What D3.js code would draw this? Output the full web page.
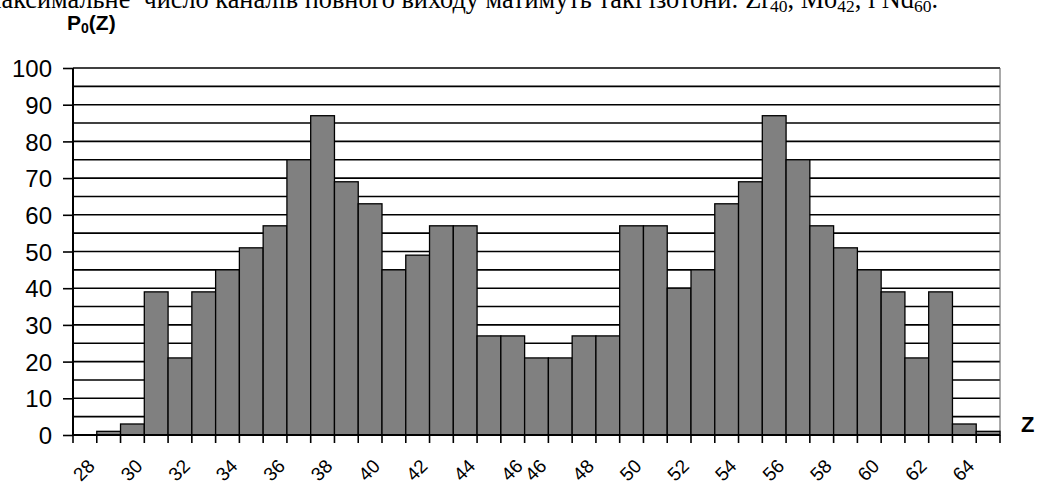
<!DOCTYPE html>
<html><head><meta charset="utf-8">
<script src="https://cdn.jsdelivr.net/npm/d3@7"></script>
<style>
html,body{margin:0;padding:0;background:#fff;overflow:hidden;}
svg{display:block;}
</style></head>
<body>
<script>
// Data
const zValues = [28,29,30,31,32,33,34,35,36,37,38,39,40,41,42,43,44,45,46,46,47,48,49,50,51,52,53,54,55,56,57,58,59,60,61,62,63,64,65];
const p0Values = [0,1,3,39,21,39,45,51,57,75,87,69,63,45,49,57,57,27,27,21,21,27,27,57,57,40,45,63,69,87,75,57,51,45,39,21,39,3,1];
const tickLabels = ["28","","30","","32","","34","","36","","38","","40","","42","","44","","46","46","","48","","50","","52","","54","","56","","58","","60","","62","","64",""];
const yTicks = [0,10,20,30,40,50,60,70,80,90,100];
const gridValues = [5,10,15,20,25,30,35,40,45,50,55,60,65,70,75,80,85,90,95,100];

const W = 1041, H = 484;
const svg = d3.select("body").append("svg").attr("width", W).attr("height", H);

const mLeft = 73, mRight = 1000, mTop = 68, mBottom = 435;

const x = d3.scaleBand().domain(d3.range(zValues.length)).range([mLeft, mRight]).padding(0);
const y = d3.scaleLinear().domain([0, 100]).range([mBottom, mTop]);

// top clipped text (continuation of the page text above the chart)
const tt = svg.append("text")
  .attr("x", 938).attr("y", 8)
  .attr("text-anchor", "end")
  .attr("font-family", "'Liberation Serif', 'Times New Roman', serif")
  .attr("font-size", 26.3)
  .attr("fill", "#000")
  .style("white-space", "pre");
const parts = [["Максимальне  число каналів повного виходу матимуть такі ізотони: Zr", false],["40", true],[", Mo", false],["42", true],[", і Nd", false],["60", true],[".", false]];
parts.forEach(([t, sub], i) => {
  const prevSub = i > 0 && parts[i-1][1];
  let dy = 0;
  if (sub && !prevSub) dy = 4;
  if (!sub && prevSub) dy = -4;
  const ts = tt.append("tspan").text(t).attr("dy", dy);
  if (sub) ts.attr("font-size", 17.5);
});

// gridlines
svg.append("g").selectAll("line").data(gridValues).join("line")
  .attr("x1", mLeft).attr("x2", mRight)
  .attr("y1", d => y(d)).attr("y2", d => y(d))
  .attr("stroke", "#000").attr("stroke-width", 1.6);

// right border
svg.append("line").attr("x1", mRight).attr("x2", mRight).attr("y1", y(100)).attr("y2", y(0))
  .attr("stroke", "#555").attr("stroke-width", 1);

// bars
svg.append("g").selectAll("rect")
  .data(p0Values.map((v, i) => ({i, v})).filter(d => d.v > 0))
  .join("rect")
  .attr("x", d => x(d.i))
  .attr("width", x.bandwidth())
  .attr("y", d => y(d.v))
  .attr("height", d => y(0) - y(d.v))
  .attr("fill", "#808080")
  .attr("stroke", "#000")
  .attr("stroke-width", 1.3);

// y axis
const yAxis = d3.axisLeft(y).tickValues(yTicks).tickSize(10).tickPadding(11).tickFormat(d3.format("d"));
const gy = svg.append("g").attr("transform", `translate(${mLeft},0)`).call(yAxis);
gy.select(".domain").attr("stroke", "#000").attr("stroke-width", 2).attr("d", `M0,${y(100)}V${y(0)}`);
gy.selectAll(".tick line").attr("stroke", "#000").attr("stroke-width", 1.6);
gy.selectAll(".tick text")
  .attr("font-family", "'Liberation Sans', Arial, sans-serif")
  .attr("font-size", 24).attr("fill", "#000").attr("dy", "0.36em");

// x axis
const boundaries = d3.range(zValues.length + 1).map(i => i < zValues.length ? x(i) : mRight);
const gx = svg.append("g");
gx.append("line").attr("x1", mLeft).attr("x2", mRight).attr("y1", mBottom).attr("y2", mBottom)
  .attr("stroke", "#000").attr("stroke-width", 2);
gx.selectAll("line.tk").data(boundaries).join("line").attr("class", "tk")
  .attr("x1", d => d).attr("x2", d => d).attr("y1", mBottom).attr("y2", mBottom + 8)
  .attr("stroke", "#000").attr("stroke-width", 1.6);
gx.selectAll("text").data(tickLabels.map((t, i) => ({t, i})).filter(d => d.t !== ""))
  .join("text")
  .attr("transform", d => `translate(${x(d.i) + x.bandwidth()/2 - 1},${470}) rotate(-45)`)
  .attr("text-anchor", "middle").attr("dy", "0.35em")
  .attr("font-family", "'Liberation Sans', Arial, sans-serif")
  .attr("font-size", 19).attr("fill", "#000")
  .text(d => d.t);

// axis titles
const pt = svg.append("text").attr("x", 67).attr("y", 30)
  .attr("font-family", "'Liberation Sans', Arial, sans-serif")
  .attr("font-size", 21).attr("font-weight", "bold").attr("fill", "#000");
pt.append("tspan").text("P");
pt.append("tspan").text("0").attr("font-size", 14).attr("dy", 3);
pt.append("tspan").text("(Z)").attr("dy", -3);

svg.append("text").attr("x", 1021).attr("y", 432)
  .attr("font-family", "'Liberation Sans', Arial, sans-serif")
  .attr("font-size", 22).attr("font-weight", "bold").attr("fill", "#000")
  .text("Z");
</script>
</body></html>
